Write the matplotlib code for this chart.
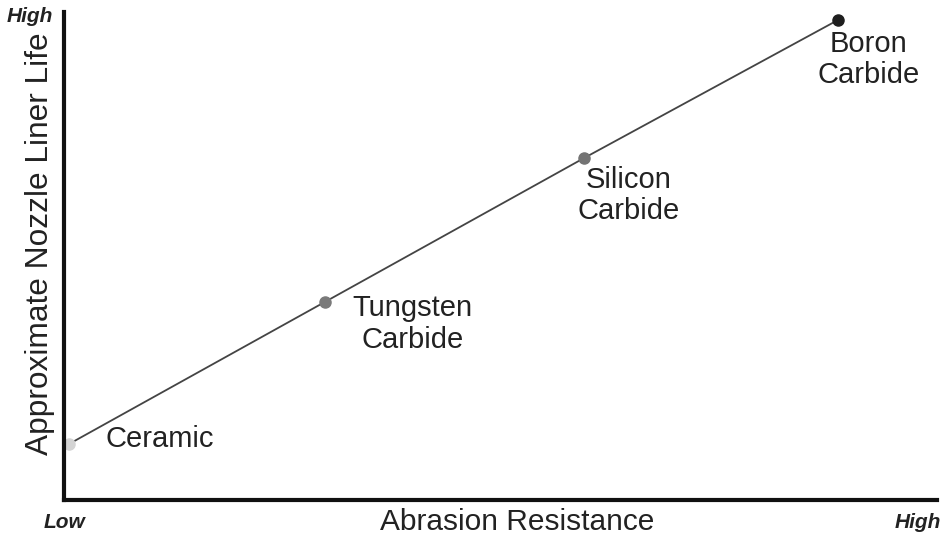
import matplotlib
matplotlib.use('Agg')
import matplotlib.pyplot as plt

plt.rcParams['font.family'] = ['Liberation Sans', 'DejaVu Sans']

# nozzle liner materials, relative units (0-10 on both axes)
materials = ['Ceramic', 'Tungsten\nCarbide', 'Silicon\nCarbide', 'Boron\nCarbide']
abrasion = [0.06, 2.99, 5.96, 8.87]
liner_life = [1.15, 4.06, 7.01, 9.84]
point_colors = ['#d4d4d4', '#7a7a7a', '#747474', '#1e1e1e']

# label offsets (points) from each marker
label_dx = [26, 63, 32, 22]
label_dy = [3.5, -16, -27, -28.5]
label_ha = ['left', 'center', 'center', 'center']

fig = plt.figure(figsize=(9.43, 5.37), dpi=100)
ax = fig.add_axes([64 / 943, 37 / 537, 873 / 943, 488 / 537])

ax.plot(abrasion, liner_life, color='#444444', lw=1.3, zorder=1)
for x, y, c in zip(abrasion, liner_life, point_colors):
    ax.plot(x, y, 'o', color=c, ms=8, zorder=2, clip_on=False)

for name, x, y, dx, dy, ha in zip(materials, abrasion, liner_life, label_dx, label_dy, label_ha):
    ax.annotate(name, (x, y), xytext=(dx, dy), textcoords='offset points',
                ha=ha, va='center', fontsize=21, color='#222222',
                multialignment='center', linespacing=1.17)

ax.set_xlim(0, 10)
ax.set_ylim(0, 10)
for side in ['top', 'right']:
    ax.spines[side].set_visible(False)
for side in ['left', 'bottom']:
    ax.spines[side].set_linewidth(3)
    ax.spines[side].set_color('#111111')
ax.set_xticks([])
ax.set_yticks([])

ax.set_xlabel('Abrasion Resistance', fontsize=21.5, color='#222222', va='baseline')
ax.xaxis.set_label_coords((517 - 64) / 873, -(530 - 500) / 488)
ax.set_ylabel('Approximate Nozzle Liner Life', fontsize=22.8, color='#222222',
              ha='center', va='center')
ax.yaxis.set_label_coords((40 - 64) / 873, (500 - 244) / 488)

corner = dict(fontsize=15, fontweight='bold', fontstyle='italic',
              ha='center', va='center', color='#222222')
fig.text(30 / 943, 1 - 17 / 537, 'High', **corner)
fig.text(65 / 943, 1 - 522 / 537, 'Low', **corner)
fig.text(918 / 943, 1 - 522 / 537, 'High', **corner)

fig.savefig('out.png', dpi=100)
